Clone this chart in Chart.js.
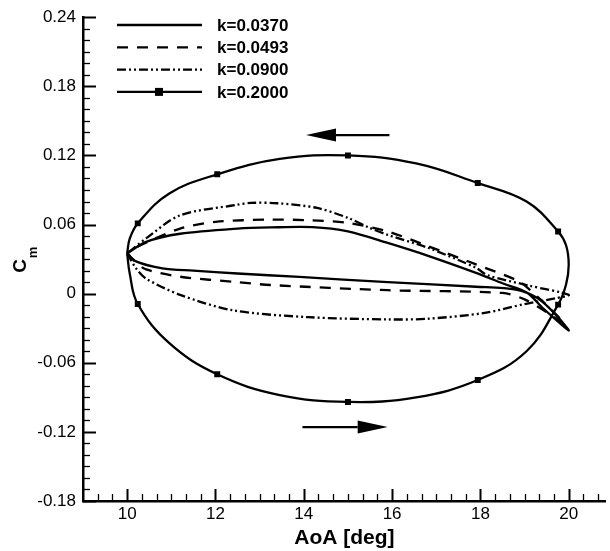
<!DOCTYPE html>
<html>
<head>
<meta charset="utf-8">
<script src="https://cdn.jsdelivr.net/npm/chart.js@4.4.0/dist/chart.umd.min.js"></script>
<style>
  html, body { margin: 0; padding: 0; background: #fff; }
  #wrap { width: 610px; height: 551px; }
</style>
</head>
<body>
<div id="wrap"><canvas id="cmChart" width="610" height="551"></canvas></div>
<script>
// Lazos de histéresis del coeficiente de momento (Cm) vs ángulo de ataque

// k = 0.0370 (subida por abajo, bajada por arriba)
const k0370X = [10, 10.2, 10.8, 11.5, 12.5, 13.9, 15.9, 17.9, 18.8, 19.3, 19.7, 20,
                19.4, 19.05, 18.5, 17.9, 16.8, 15.9, 15, 14.2, 13.25, 12.5, 11.2, 10.43, 10];
const k0370Y = [0.035, 0.028, 0.022, 0.020, 0.0175, 0.0145, 0.010, 0.006, 0.0035, -0.004, -0.018, -0.032,
                -0.012, 0.001, 0.009, 0.018, 0.033, 0.044, 0.054, 0.0577, 0.0575, 0.0565, 0.052, 0.045, 0.035];

// k = 0.0493
const k0493X = [10, 10.2, 10.43, 11.2, 12.5, 13.25, 15.9, 18.5, 19.0, 19.5, 19.9,
                19.5, 19.1, 18.86, 17.9, 16.8, 15.9, 15, 14.1, 13.25, 12.0, 11.2, 10.3, 10];
const k0493Y = [0.035, 0.027, 0.021, 0.0147, 0.010, 0.0075, 0.003, 0.0006, -0.005, -0.016, -0.026,
                -0.010, 0.004, 0.011, 0.0254, 0.0414, 0.054, 0.0614, 0.0637, 0.0643, 0.0623, 0.0565, 0.042, 0.035];

// k = 0.0900
const k0900X = [10, 10.2, 10.43, 11.2, 12.4, 14.1, 15.9, 16.8, 18.1, 19.0, 19.7, 20,
                19.1, 18.16, 17.9, 16.8, 15.9, 15.5, 15.0, 14.3, 13.4, 12.8, 12.5, 11.2, 10.43, 10];
const k0900Y = [0.035, 0.022, 0.013, -0.001, -0.0145, -0.0204, -0.0224, -0.0218, -0.0167, -0.009, -0.004, -0.001,
                0.007, 0.016, 0.0225, 0.040, 0.051, 0.057, 0.0658, 0.0744, 0.0785, 0.0788, 0.0772, 0.068, 0.048, 0.035];

// k = 0.2000 (lazo casi elíptico)
const k2000X = [10, 10.06, 10.24, 10.955, 12.04, 13.455, 15, 16.545, 17.94, 19.045, 19.76, 19.94, 20,
                19.94, 19.76, 19.045, 17.94, 16.545, 15, 13.455, 12.04, 10.955, 10.24, 10.06, 10];
const k2000Y = [0.035, 0.017, -0.009, -0.043, -0.070, -0.088, -0.094, -0.090, -0.075, -0.050, -0.0095, 0.008, 0.025,
                0.042, 0.054, 0.080, 0.096, 0.113, 0.120, 0.117, 0.1036, 0.087, 0.061, 0.048, 0.035];

// Marcadores cuadrados del lazo k = 0.2000
const markX = [10.24, 12.04, 15, 17.94, 19.76, 19.76, 17.94, 15, 12.04, 10.24];
const markY = [-0.009, -0.070, -0.094, -0.075, -0.0095, 0.054, 0.096, 0.120, 0.1036, 0.061];

// Flechas de sentido de recorrido: [x cola, x punta, y]
const arrowTop = [15.94, 14.05, 0.1377];
const arrowBottom = [13.97, 15.9, -0.1158];

// Ejes
const xTicks = [10, 12, 14, 16, 18, 20];
const yTicks = [-0.18, -0.12, -0.06, 0, 0.06, 0.12, 0.18, 0.24];
const yTickLabels = ["-0.18", "-0.12", "-0.06", "0", "0.06", "0.12", "0.18", "0.24"];

const labels = ["k=0.0370", "k=0.0493", "k=0.0900", "k=0.2000"];
const dashes = [[], [11, 9], [9, 3, 2, 3, 2, 3], []];

const FONT = "'Liberation Sans', Arial, Helvetica, sans-serif";

function puntos(xs, ys) {
    return xs.map((x, i) => ({ x: x, y: ys[i] }));
}

function serie(idx, xs, ys, tension) {
    return {
        label: labels[idx],
        data: puntos(xs, ys),
        showLine: true,
        borderColor: "#000",
        backgroundColor: "#000",
        borderWidth: 2.3,
        borderDash: dashes[idx],
        pointRadius: 0,
        tension: tension
    };
}

// Plugin: ticks hacia adentro, flechas, leyenda y título del eje y
const extras = {
    id: "extras",
    afterDraw(chart) {
        const ctx = chart.ctx;
        const sx = chart.scales.x;
        const sy = chart.scales.y;
        const area = chart.chartArea;
        ctx.save();
        ctx.strokeStyle = "#000";
        ctx.fillStyle = "#000";
        ctx.setLineDash([]);

        // ticks del eje y (menores cada 0.01)
        for (let i = 0; i <= 42; i++) {
            const v = -0.18 + i * 0.01;
            const py = Math.round(sy.getPixelForValue(v)) + 0.5;
            const mayor = i % 6 === 0;
            ctx.lineWidth = mayor ? 2 : 1.3;
            ctx.beginPath();
            ctx.moveTo(area.left, py);
            ctx.lineTo(area.left + (mayor ? 13 : 7), py);
            ctx.stroke();
        }
        // ticks del eje x (menores cada 1/3)
        for (let i = 1; 9 + i / 3 <= sx.max; i++) {
            const v = 9 + i / 3;
            const px = Math.round(sx.getPixelForValue(v)) + 0.5;
            const mayor = i % 6 === 3;
            ctx.lineWidth = mayor ? 2 : 1.3;
            ctx.beginPath();
            ctx.moveTo(px, area.bottom);
            ctx.lineTo(px, area.bottom - (mayor ? 12 : 7));
            ctx.stroke();
        }

        // flechas
        [arrowTop, arrowBottom].forEach(a => {
            const x0 = sx.getPixelForValue(a[0]);
            const x1 = sx.getPixelForValue(a[1]);
            const py = sy.getPixelForValue(a[2]);
            const dir = Math.sign(x1 - x0);
            const base = x1 - dir * 30;
            ctx.lineWidth = 2.3;
            ctx.beginPath();
            ctx.moveTo(x0, py);
            ctx.lineTo(base, py);
            ctx.stroke();
            ctx.beginPath();
            ctx.moveTo(x1, py);
            ctx.lineTo(base, py - 6.5);
            ctx.lineTo(base, py + 6.5);
            ctx.closePath();
            ctx.fill();
        });

        // leyenda
        ctx.font = "bold 17px " + FONT;
        ctx.textBaseline = "middle";
        ctx.textAlign = "left";
        labels.forEach((lab, i) => {
            const y = 25 + i * 22.3;
            ctx.lineWidth = 2.3;
            ctx.setLineDash(dashes[i]);
            ctx.beginPath();
            ctx.moveTo(117, y);
            ctx.lineTo(202, y);
            ctx.stroke();
            ctx.setLineDash([]);
            if (i === 3) {
                ctx.fillRect(155, y - 4, 8, 8);
            }
            ctx.fillText(lab, 217, y + 1);
        });

        // título eje y: C con subíndice m
        ctx.translate(26, 262);
        ctx.rotate(-Math.PI / 2);
        ctx.textBaseline = "alphabetic";
        ctx.font = "bold 19px " + FONT;
        const wC = ctx.measureText("C").width;
        ctx.fillText("C", -wC / 2 - 4, 0);
        ctx.font = "bold 13px " + FONT;
        ctx.fillText("m", wC / 2 - 3, 11);
        ctx.restore();
    }
};

const ctx = document.getElementById("cmChart").getContext("2d");

new Chart(ctx, {
    type: "scatter",
    data: {
        datasets: [
            serie(0, k0370X, k0370Y, 0.3),
            serie(1, k0493X, k0493Y, 0.3),
            serie(2, k0900X, k0900Y, 0.3),
            serie(3, k2000X, k2000Y, 0.4),
            {
                label: "marcadores",
                data: puntos(markX, markY),
                showLine: false,
                pointStyle: "rect",
                pointRadius: 4.2,
                pointBackgroundColor: "#000",
                pointBorderColor: "#000",
                pointBorderWidth: 0
            }
        ]
    },
    options: {
        responsive: false,
        animation: false,
        layout: { padding: { top: 15, right: 0, left: 0, bottom: 0 } },
        plugins: {
            legend: { display: false },
            tooltip: { enabled: false }
        },
        scales: {
            x: {
                type: "linear",
                min: 9,
                max: 20.84,
                afterBuildTicks: s => { s.ticks = xTicks.map(v => ({ value: v })); },
                afterFit: s => { s.height = 50; },
                grid: { display: false, drawTicks: false },
                border: { display: true, color: "#000", width: 2.5 },
                ticks: { color: "#000", font: { family: FONT, size: 17 }, padding: 3 },
                title: {
                    display: true,
                    text: "AoA [deg]",
                    color: "#000",
                    font: { family: FONT, size: 21, weight: "bold" },
                    padding: { top: -2, bottom: 0 }
                }
            },
            y: {
                type: "linear",
                min: -0.18,
                max: 0.24,
                afterBuildTicks: s => { s.ticks = yTicks.map(v => ({ value: v })); },
                afterFit: s => { s.width = 83; },
                grid: { display: false, drawTicks: false },
                border: { display: true, color: "#000", width: 2.5 },
                ticks: {
                    color: "#000",
                    font: { family: FONT, size: 17 },
                    padding: 7,
                    callback: (v, i) => yTickLabels[i]
                }
            }
        }
    },
    plugins: [extras]
});
</script>
</body>
</html>
